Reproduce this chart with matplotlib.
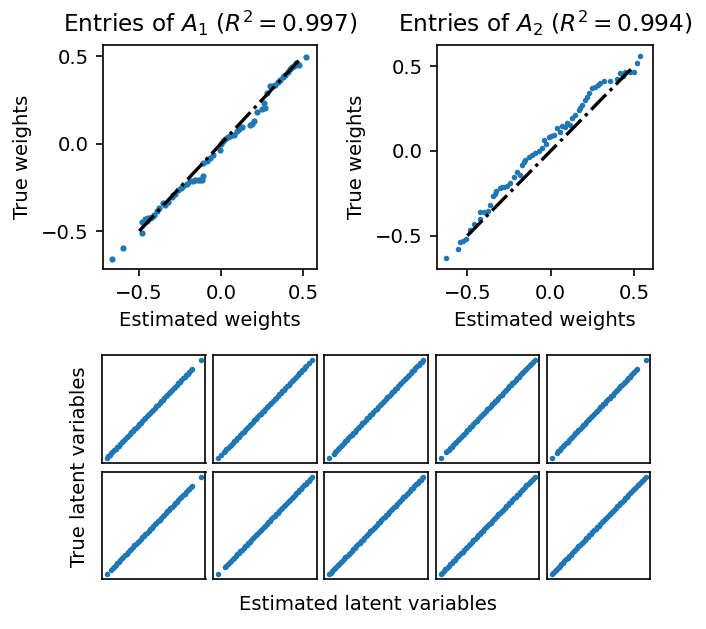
import matplotlib.pyplot as plt

W, H = 707, 629

# top-left panel: entries of A1 (estimated, true)
a1_est = [-0.669, -0.598, -0.486, -0.480, -0.465, -0.445, -0.424, -0.410, -0.394, -0.380,
          -0.343, -0.322, -0.302, -0.282, -0.261, -0.231, -0.210, -0.190, -0.159, -0.139,
          -0.118, -0.108, -0.108, -0.088, -0.067, -0.047, -0.010, -0.002, 0.024, 0.055,
          0.076, 0.096, 0.127, 0.178, 0.198, 0.218, 0.249, 0.269, 0.259, 0.280, 0.300,
          0.331, 0.361, 0.392, 0.422, 0.443, 0.473, 0.518,
          -0.455, -0.435, -0.355, -0.292, -0.245, -0.170, -0.128, 0.010, 0.040, 0.110,
          0.188, 0.310, 0.345, 0.375, 0.405, 0.432, 0.458]
a1_true = [-0.657, -0.596, -0.510, -0.450, -0.434, -0.425, -0.421, -0.406, -0.387, -0.368,
           -0.349, -0.333, -0.305, -0.286, -0.263, -0.244, -0.229, -0.215, -0.210, -0.210,
           -0.206, -0.183, -0.110, -0.101, -0.082, -0.063, -0.038, 0.000, 0.027, 0.042,
           0.051, 0.070, 0.095, 0.103, 0.131, 0.179, 0.198, 0.204, 0.232, 0.290, 0.328,
           0.337, 0.362, 0.394, 0.427, 0.442, 0.451, 0.495,
           -0.440, -0.423, -0.340, -0.296, -0.255, -0.212, -0.209, 0.012, 0.035, 0.083,
           0.110, 0.330, 0.350, 0.378, 0.410, 0.435, 0.460]
a1_line = [-0.50, 0.49]

# top-right panel: entries of A2
a2_est = [-0.626, -0.556, -0.546, -0.526, -0.506, -0.486, -0.458, -0.426, -0.422, -0.398,
          -0.378, -0.362, -0.346, -0.326, -0.306, -0.282, -0.262, -0.242, -0.222, -0.202,
          -0.172, -0.152, -0.132, -0.112, -0.072, -0.052, -0.042, -0.012, 0.018, 0.038,
          0.068, 0.098, 0.128, 0.148, 0.168, 0.188, 0.208, 0.228, 0.248, 0.268, 0.298,
          0.318, 0.354, 0.398, 0.418, 0.448, 0.478, 0.498, 0.518, 0.538,
          -0.336, -0.292, -0.187, -0.162, -0.092, -0.027, 0.003, 0.053, 0.083, 0.113,
          0.178, 0.218, 0.283, 0.433]
a2_true = [-0.631, -0.576, -0.535, -0.531, -0.520, -0.469, -0.429, -0.402, -0.363, -0.359,
           -0.355, -0.318, -0.265, -0.239, -0.220, -0.210, -0.204, -0.190, -0.155, -0.122,
           -0.082, -0.053, -0.037, -0.024, 0.000, 0.016, 0.065, 0.080, 0.094, 0.133,
           0.147, 0.163, 0.192, 0.212, 0.241, 0.271, 0.300, 0.339, 0.369, 0.378, 0.398,
           0.414, 0.414, 0.422, 0.457, 0.467, 0.467, 0.467, 0.516, 0.559,
           -0.252, -0.215, -0.140, -0.068, -0.010, 0.040, 0.087, 0.110, 0.140, 0.155,
           0.255, 0.320, 0.388, 0.440]
a2_line = [-0.50, 0.50]

# bottom grid: latent variables, shared middle of each diagonal plus per-panel ends
latent_mid = [0.120, 0.135, 0.150, 0.165, 0.180, 0.195, 0.210, 0.225, 0.240, 0.255,
              0.270, 0.285, 0.300, 0.315, 0.330, 0.345, 0.360, 0.375, 0.390, 0.405,
              0.420, 0.435, 0.450, 0.465, 0.480, 0.495, 0.510, 0.525, 0.540, 0.555,
              0.570, 0.585, 0.600, 0.615, 0.630, 0.645, 0.660, 0.675, 0.690, 0.705,
              0.720, 0.735, 0.750, 0.765, 0.780, 0.795, 0.810, 0.825, 0.840, 0.855]
latent_lo = [
    [0.050, 0.065, 0.080, 0.095, 0.105],
    [0.040, 0.070, 0.100, 0.110],
    [0.055, 0.097, 0.110],
    [0.045, 0.097, 0.110],
    [0.042, 0.090, 0.105],
    [0.050, 0.087, 0.110],
    [0.040, 0.110],
    [0.055, 0.070, 0.085, 0.100, 0.110],
    [0.045, 0.060, 0.075, 0.090, 0.105],
    [0.042, 0.055, 0.070, 0.085, 0.100, 0.110],
]
latent_hi = [
    [0.868, 0.950],
    [0.870, 0.880, 0.890, 0.920, 0.950],
    [0.870, 0.885, 0.900, 0.915, 0.930, 0.945, 0.960],
    [0.870, 0.885, 0.900, 0.915, 0.930, 0.950],
    [0.864, 0.950],
    [0.868, 0.950],
    [0.870, 0.885, 0.900, 0.915, 0.930, 0.950],
    [0.870, 0.885, 0.900, 0.915, 0.930, 0.945, 0.955],
    [0.870, 0.885, 0.900, 0.915, 0.930, 0.950],
    [0.870, 0.885, 0.900, 0.915, 0.930, 0.950],
]

blue = '#1f77b4'
FS = 9.4


def px_axes(fig, left, top, right, bottom):
    return fig.add_axes([left / W, 1 - bottom / H, (right - left) / W, (bottom - top) / H])


def main():
    plt.rcParams['font.size'] = FS
    fig = plt.figure(figsize=(W / 150, H / 150), dpi=150)

    ax1 = px_axes(fig, 103, 45, 317, 269)
    ax1.scatter(a1_est, a1_true, s=9, color=blue, linewidths=0, zorder=2)
    ax1.plot(a1_line, a1_line, color='black', linestyle='-.', linewidth=1.6, zorder=3)
    ax1.set_xlim(-0.721, 0.585)
    ax1.set_ylim(-0.717, 0.563)
    ax1.set_xticks([-0.5, 0.0, 0.5])
    ax1.set_yticks([-0.5, 0.0, 0.5])
    ax1.set_xlabel('Estimated weights')
    ax1.set_ylabel('True weights')
    ax1.set_title(r'Entries of $A_1$ ($R^2 = 0.997$)', fontsize=11.2)

    ax2 = px_axes(fig, 437, 45, 653, 269)
    ax2.scatter(a2_est, a2_true, s=7, color=blue, linewidths=0, zorder=2)
    ax2.plot(a2_line, a2_line, color='black', linestyle='-.', linewidth=1.6, zorder=3)
    ax2.set_xlim(-0.682, 0.614)
    ax2.set_ylim(-0.696, 0.624)
    ax2.set_xticks([-0.5, 0.0, 0.5])
    ax2.set_yticks([-0.5, 0.0, 0.5])
    ax2.set_xlabel('Estimated weights')
    ax2.set_ylabel('True weights')
    ax2.set_title(r'Entries of $A_2$ ($R^2 = 0.994$)', fontsize=11.2)

    lefts = [102, 213.5, 324.5, 436, 547]
    rows = [(355, 463), (472, 579)]
    for i in range(10):
        r, c = divmod(i, 5)
        ax = px_axes(fig, lefts[c], rows[r][0], lefts[c] + 103.5, rows[r][1])
        vals = latent_lo[i] + latent_mid + latent_hi[i]
        ax.scatter(vals, vals, s=7, color=blue, linewidths=0)
        ax.set_xticks([])
        ax.set_yticks([])

    fig.text(80 / W, 1 - 467 / H, 'True latent variables', rotation=90,
             ha='center', va='center', fontsize=FS)
    fig.text(368 / W, 1 - 605 / H, 'Estimated latent variables',
             ha='center', va='center', fontsize=FS)

    fig.savefig('out.png', dpi=150)


if __name__ == '__main__':
    main()
